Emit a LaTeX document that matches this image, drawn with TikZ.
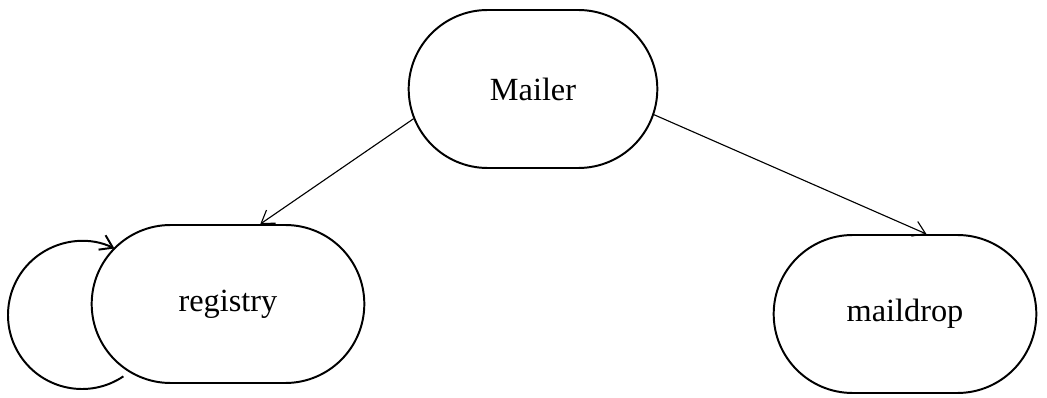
\documentclass[tikz,border=0pt]{standalone}
\usepackage{fontspec}
\setmainfont{Liberation Serif}
\usetikzlibrary{arrows.meta,shapes.misc}

\begin{document}
\begin{tikzpicture}[
    state/.style={draw,line width=1.4pt,rounded rectangle,minimum height=3.95cm,fill=white,font=\fontsize{23}{26}\selectfont},
    link/.style={line width=0.8pt,-{Straight Barb[length=3mm,width=4mm]}}]
\useasboundingbox (0,0) rectangle (26.175,9.925);
\node[state,minimum width=6.45cm] (Mailer) at (13.325,7.7) {Mailer};
\node[state,minimum width=7.05cm] (registry) at (5.7,2.325) {registry};
\node[state,minimum width=6.8cm] (maildrop) at (22.625,2.075) {maildrop};
% self loop on registry
\coordinate (loopc) at (2.05,2.05);
\draw[line width=1.4pt,-{Straight Barb[length=3mm,width=4mm]}] (loopc) ++(-56:1.85) arc[start angle=-56,end angle=-296,radius=1.85];
\draw[link] (Mailer.194) -- (registry.68);
\draw[link] (Mailer.348) -- (maildrop.75);
\end{tikzpicture}
\end{document}
